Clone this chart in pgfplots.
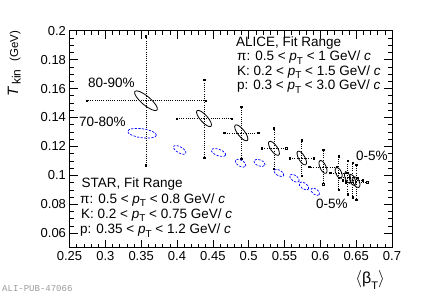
\documentclass[border=0pt]{standalone}
\usepackage{fontspec}
\setmainfont{Liberation Sans}
\newfontfamily\monofont{Liberation Mono}
\usepackage{pgfplots}
\usepackage{pgfplotstable}
\pgfplotsset{compat=1.18}
\newcommand{\pT}{\textit{p}\raisebox{-0.5ex}{\fontsize{10}{10}\selectfont T}}
\newcommand{\tf}{\fontsize{13.5}{15}\selectfont}
\begin{document}
\pgfplotstableread{
x y xe ye a b ang
0.3567 0.1516 0.083 0.0445 14.5 4.4 -40
0.4377 0.1393 0.0385 0.027 10.5 3.6 -48
0.4897 0.1294 0.0237 0.018 9.8 3.5 -52
0.5353 0.1187 0.017 0.014 8.3 3.3 -55
0.5741 0.1120 0.017 0.0123 7.8 3.1 -60
0.6037 0.1058 0.019 0.0118 7.0 3.0 -65
0.6256 0.1017 0.012 0.0115 6.0 2.8 -65
0.6382 0.0985 0.013 0.0116 6.2 2.6 -70
0.6449 0.0968 0.014 0.012 6.0 2.6 -70
0.6502 0.0953 0.015 0.012 6.0 3.0 -65
}\alicedata
\pgfplotstableread{
x y a b ang
0.3512 0.1291 14.5 4.5 -8
0.4038 0.1176 7.0 3.0 -30
0.4579 0.1158 7.5 3.2 -20
0.4887 0.1084 6.0 3.0 -30
0.5151 0.1086 6.0 3.0 -20
0.5423 0.1017 5.5 2.8 -30
0.5639 0.0980 5.5 3.0 -35
0.5772 0.0927 5.5 3.0 -35
0.5930 0.0887 5.0 2.8 -35
}\stardata
\begin{tikzpicture}
\path[use as bounding box] (0,0) rectangle (436pt,296pt);
\begin{axis}[at={(69.5pt,48.3pt)}, anchor=south west, scale only axis,
  width=322.5pt, height=217pt,
  xmin=0.25, xmax=0.7, ymin=0.05, ymax=0.2,
  xtick={0.25,0.3,0.35,0.4,0.45,0.5,0.55,0.6,0.65,0.7},
  ytick={0.06,0.08,0.1,0.12,0.14,0.16,0.18,0.2},
  minor x tick num=4, minor y tick num=3,
  tick align=inside, major tick length=8pt, minor tick length=4pt,
  axis line style={line width=0.9pt},
  every tick/.style={black, line width=0.6pt},
  ticklabel style={font=\fontsize{13}{15}\selectfont},
  /pgf/number format/assume math mode=true,
  xticklabel style={/pgf/number format/fixed, /pgf/number format/precision=2},
  yticklabel style={/pgf/number format/fixed, /pgf/number format/precision=2},
]
% ALICE error bars
\addplot[draw=none, mark=none, forget plot,
  error bars/.cd, x dir=both, x explicit, y dir=both, y explicit,
  error mark=square, error mark options={solid, draw=black, fill=none, mark size=0.7pt, line width=0.35pt},
  error bar style={draw=black, line width=0.6pt, dash pattern=on 0.8pt off 1.4pt}]
  table[x=x, y=y, x error=xe, y error=ye] {\alicedata};
% ALICE ellipses
\addplot[scatter, only marks, mark=o, mark size=1pt,
  scatter/use mapped color={draw=black},
  mark options={solid, line width=0.8pt},
  visualization depends on={\thisrow{a} \as \ea},
  visualization depends on={\thisrow{b} \as \eb},
  visualization depends on={\thisrow{ang} \as \eang},
  scatter/@pre marker code/.append style={/tikz/rotate=\eang, /tikz/xscale=\ea, /tikz/yscale=\eb}]
  table[x=x, y=y] {\alicedata};
% STAR ellipses
\addplot[scatter, only marks, mark=o, mark size=1pt,
  scatter/use mapped color={draw=blue},
  mark options={line width=0.7pt, dash pattern=on 2.2pt off 1.4pt},
  visualization depends on={\thisrow{a} \as \ea},
  visualization depends on={\thisrow{b} \as \eb},
  visualization depends on={\thisrow{ang} \as \eang},
  scatter/@pre marker code/.append style={/tikz/rotate=\eang, /tikz/xscale=\ea, /tikz/yscale=\eb}]
  table[x=x, y=y] {\stardata};
\end{axis}
% axis titles
\node[rotate=90, anchor=base east, inner sep=0pt] at (18pt,265.5pt)
  {{\fontsize{15}{15}\selectfont\textit{T}}\hspace{2pt}\raisebox{-0.5ex}{\fontsize{12}{10}\selectfont kin}\hspace{8pt}{\fontsize{11.5}{14}\selectfont (GeV)}};
\node[anchor=base east, inner sep=0pt] at (385pt,12pt)
  {\fontsize{16}{16}\selectfont$\langle$β\raisebox{-0.6ex}{\fontsize{11}{11}\selectfont T}$\rangle$};
% ALICE text
\node[anchor=base west, inner sep=0pt] at (236pt,249pt) {\tf ALICE, Fit Range};
\node[anchor=base west, inner sep=0pt] at (237pt,235.5pt) {\tf π: 0.5 < \pT{} < 1 GeV/ \textit{c}};
\node[anchor=base west, inner sep=0pt] at (237pt,220.7pt) {\tf K: 0.2 < \pT{} < 1.5 GeV/ \textit{c}};
\node[anchor=base west, inner sep=0pt] at (237pt,206.2pt) {\tf p: 0.3 < \pT{} < 3.0 GeV/ \textit{c}};
% STAR text
\node[anchor=base west, inner sep=0pt] at (81.5pt,108pt) {\tf STAR, Fit Range};
\node[anchor=base west, inner sep=0pt] at (80pt,92.8pt) {\tf π: 0.5 < \pT{} < 0.8 GeV/ \textit{c}};
\node[anchor=base west, inner sep=0pt] at (81pt,77.6pt) {\tf K: 0.2 < \pT{} < 0.75 GeV/ \textit{c}};
\node[anchor=base west, inner sep=0pt] at (80pt,62.4pt) {\tf p: 0.35 < \pT{} < 1.2 GeV/ \textit{c}};
% centrality labels
\node[anchor=base west, inner sep=0pt] at (88pt,208.7pt) {\tf 80-90\%};
\node[anchor=base west, inner sep=0pt] at (79pt,169pt) {\tf 70-80\%};
\node[anchor=base west, inner sep=0pt] at (356pt,135pt) {\tf 0-5\%};
\node[anchor=base west, inner sep=0pt] at (316pt,87pt) {\tf 0-5\%};
% footer
\node[anchor=base west, inner sep=0pt, text=black!40] at (2pt,4.5pt) {\monofont\fontsize{9}{10}\selectfont ALI-PUB-47066};
\end{tikzpicture}
\end{document}
